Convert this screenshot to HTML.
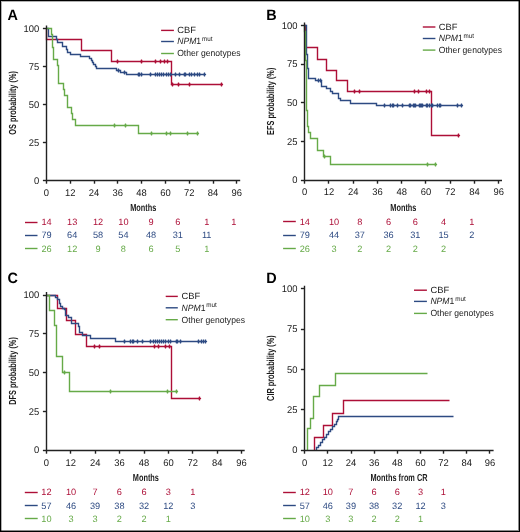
<!DOCTYPE html><html><head><meta charset="utf-8"><style>
html,body{margin:0;padding:0;background:#fff;}
body{width:520px;height:532px;overflow:hidden;}
svg{display:block;will-change:transform;}
text{font-family:"Liberation Sans", sans-serif;text-rendering:geometricPrecision;}
</style></head><body>
<svg width="520" height="532" viewBox="0 0 520 532">
<rect x="0" y="0" width="520" height="532" fill="#fff"/>
<text transform="translate(7.6,19.8) scale(0.96,1)" font-size="15" font-weight="bold" fill="#000">A</text>
<g font-size="9.7" fill="#1a1a1a">
<text transform="translate(39.2,183.5) scale(0.97,1)" text-anchor="end">0</text>
<text transform="translate(39.2,145.6) scale(0.97,1)" text-anchor="end">25</text>
<text transform="translate(39.2,107.7) scale(0.97,1)" text-anchor="end">50</text>
<text transform="translate(39.2,69.8) scale(0.97,1)" text-anchor="end">75</text>
<text transform="translate(39.2,31.9) scale(0.97,1)" text-anchor="end">100</text>
<text transform="translate(46.4,195.6) scale(0.97,1)" text-anchor="middle">0</text>
<text transform="translate(70.2,195.6) scale(0.97,1)" text-anchor="middle">12</text>
<text transform="translate(94,195.6) scale(0.97,1)" text-anchor="middle">24</text>
<text transform="translate(117.8,195.6) scale(0.97,1)" text-anchor="middle">36</text>
<text transform="translate(141.6,195.6) scale(0.97,1)" text-anchor="middle">48</text>
<text transform="translate(165.4,195.6) scale(0.97,1)" text-anchor="middle">60</text>
<text transform="translate(189.2,195.6) scale(0.97,1)" text-anchor="middle">72</text>
<text transform="translate(213,195.6) scale(0.97,1)" text-anchor="middle">84</text>
<text transform="translate(236.8,195.6) scale(0.97,1)" text-anchor="middle">96</text>
</g>
<text transform="translate(143.3,210.8) scale(0.72,1)" font-size="10.2" font-weight="bold" text-anchor="middle" fill="#1a1a1a">Months</text>
<text transform="translate(16,102.9) rotate(-90) scale(0.72,1)" font-size="10.2" font-weight="bold" text-anchor="middle" fill="#1a1a1a">OS probability (%)</text>
<path d="M161.1,30.4 H173.9" stroke="#ad0f37" stroke-width="1.4"/>
<text transform="translate(177.2,33.3) scale(1.04,1)" font-size="9" fill="#1a1a1a">CBF</text>
<path d="M161.1,41.5 H173.9" stroke="#2d4a82" stroke-width="1.4"/>
<text transform="translate(177.2,44.4) scale(0.955,1)" font-size="9" fill="#1a1a1a"><tspan font-style="italic">NPM</tspan>1<tspan font-size="6.6" dx="0.9" dy="-3.6">mut</tspan></text>
<path d="M161.1,53.5 H173.9" stroke="#66aa48" stroke-width="1.4"/>
<text transform="translate(177.2,56.4) scale(0.952,1)" font-size="9" fill="#1a1a1a">Other genotypes</text>
<path d="M46.5,28.5 H46.5 V39.5 H81.5 V50.5 H111.5 V61.5 H171.5 V84.5 H222.5" stroke="#ad0f37" stroke-width="1.4" fill="none"/>
<path d="M117.5,59.6 V63.4 M141.5,59.6 V63.4 M155.5,59.6 V63.4 M160.5,59.6 V63.4 M164.5,59.6 V63.4 M167.5,59.6 V63.4 M172.5,82.6 V86.4 M178.5,82.6 V86.4 M189.5,82.6 V86.4 M221.5,82.6 V86.4" stroke="#ad0f37" stroke-width="1.25" fill="none"/>
<path d="M115.9,61.5 H119.1 M139.9,61.5 H143.1 M153.9,61.5 H157.1 M158.9,61.5 H162.1 M162.9,61.5 H166.1 M165.9,61.5 H169.1 M170.9,84.5 H174.1 M176.9,84.5 H180.1 M187.9,84.5 H191.1 M219.9,84.5 H223.1" stroke="#ad0f37" stroke-width="1.4" fill="none"/>
<path d="M46.5,28.5 H48.5 V36.5 H56.5 V39.5 H57.5 V42.5 H62.5 V46.5 H66.5 V49.5 H67.5 V52.5 H70.5 V54.5 H80.5 V56.5 H89.5 V58.5 H91.5 V60.5 H92.5 V62.5 H93.5 V64.5 H95.5 V66.5 H96.5 V68.5 H116.5 V70.5 H120.5 V72.5 H126.5 V74.5 H204.5" stroke="#2d4a82" stroke-width="1.4" fill="none"/>
<path d="M118.5,68.6 V72.4 M124.5,70.6 V74.4 M138.5,72.6 V76.4 M139.5,72.6 V76.4 M141.5,72.6 V76.4 M150.5,72.6 V76.4 M155.5,72.6 V76.4 M157.5,72.6 V76.4 M159.5,72.6 V76.4 M161.5,72.6 V76.4 M163.5,72.6 V76.4 M166.5,72.6 V76.4 M168.5,72.6 V76.4 M170.5,72.6 V76.4 M175.5,72.6 V76.4 M179.5,72.6 V76.4 M184.5,72.6 V76.4 M185.5,72.6 V76.4 M189.5,72.6 V76.4 M191.5,72.6 V76.4 M194.5,72.6 V76.4 M197.5,72.6 V76.4 M199.5,72.6 V76.4 M204.5,72.6 V76.4" stroke="#2d4a82" stroke-width="1.25" fill="none"/>
<path d="M116.9,70.5 H120.1 M122.9,72.5 H126.1 M136.9,74.5 H140.1 M137.9,74.5 H141.1 M139.9,74.5 H143.1 M148.9,74.5 H152.1 M153.9,74.5 H157.1 M155.9,74.5 H159.1 M157.9,74.5 H161.1 M159.9,74.5 H163.1 M161.9,74.5 H165.1 M164.9,74.5 H168.1 M166.9,74.5 H170.1 M168.9,74.5 H172.1 M173.9,74.5 H177.1 M177.9,74.5 H181.1 M182.9,74.5 H186.1 M183.9,74.5 H187.1 M187.9,74.5 H191.1 M189.9,74.5 H193.1 M192.9,74.5 H196.1 M195.9,74.5 H199.1 M197.9,74.5 H201.1 M202.9,74.5 H206.1" stroke="#2d4a82" stroke-width="1.4" fill="none"/>
<path d="M46.5,28.5 H51.5 V34.5 H52.5 V41.5 H52.5 V47.5 H53.5 V53.5 H53.5 V59.5 H57.5 V65.5 H58.5 V83.5 H63.5 V89.5 H64.5 V95.5 H67.5 V107.5 H71.5 V113.5 H72.5 V119.5 H75.5 V125.5 H138.5 V133.5 H198.5" stroke="#66aa48" stroke-width="1.4" fill="none"/>
<path d="M114.5,123.6 V127.4 M125.5,123.6 V127.4 M151.5,131.6 V135.4 M166.5,131.6 V135.4 M170.5,131.6 V135.4 M187.5,131.6 V135.4 M197.5,131.6 V135.4" stroke="#66aa48" stroke-width="1.25" fill="none"/>
<path d="M112.9,125.5 H116.1 M123.9,125.5 H127.1 M149.9,133.5 H153.1 M164.9,133.5 H168.1 M168.9,133.5 H172.1 M185.9,133.5 H189.1 M195.9,133.5 H199.1" stroke="#66aa48" stroke-width="1.4" fill="none"/>
<g stroke="#222" stroke-width="1.4" fill="none">
<path d="M46.5,25.5 V180.5 H240.2"/>
<path d="M42.9,180.5 H46.5"/>
<path d="M42.9,142.5 H46.5"/>
<path d="M42.9,104.5 H46.5"/>
<path d="M42.9,66.5 H46.5"/>
<path d="M42.9,28.5 H46.5"/>
<path d="M46.5,180.5 V183.7"/>
<path d="M70.5,180.5 V183.7"/>
<path d="M94.5,180.5 V183.7"/>
<path d="M117.5,180.5 V183.7"/>
<path d="M141.5,180.5 V183.7"/>
<path d="M165.5,180.5 V183.7"/>
<path d="M189.5,180.5 V183.7"/>
<path d="M213.5,180.5 V183.7"/>
<path d="M236.5,180.5 V183.7"/>
</g>
<path d="M25,222.5 H37.5" stroke="#ad0f37" stroke-width="1.4"/>
<g font-size="9.2" fill="#ad0f37" text-anchor="middle">
<text x="46.6" y="225.2">14</text>
<text x="72.2" y="225.2">13</text>
<text x="98" y="225.2">12</text>
<text x="123.4" y="225.2">10</text>
<text x="151.1" y="225.2">9</text>
<text x="177.8" y="225.2">6</text>
<text x="206.7" y="225.2">1</text>
<text x="233.8" y="225.2">1</text>
</g>
<path d="M25,235.5 H37.5" stroke="#2d4a82" stroke-width="1.4"/>
<g font-size="9.2" fill="#2d4a82" text-anchor="middle">
<text x="46.6" y="238.4">79</text>
<text x="72.2" y="238.4">64</text>
<text x="98" y="238.4">58</text>
<text x="123.4" y="238.4">54</text>
<text x="151.1" y="238.4">48</text>
<text x="177.8" y="238.4">31</text>
<text x="206.7" y="238.4">11</text>
</g>
<path d="M25,248.5 H37.5" stroke="#66aa48" stroke-width="1.4"/>
<g font-size="9.2" fill="#66aa48" text-anchor="middle">
<text x="46.6" y="251.6">26</text>
<text x="72.2" y="251.6">12</text>
<text x="98" y="251.6">9</text>
<text x="123.4" y="251.6">8</text>
<text x="151.1" y="251.6">6</text>
<text x="177.8" y="251.6">5</text>
<text x="206.7" y="251.6">1</text>
</g>
<text transform="translate(266.3,19.7) scale(0.96,1)" font-size="15" font-weight="bold" fill="#000">B</text>
<g font-size="9.7" fill="#1a1a1a">
<text transform="translate(297.5,183.3) scale(0.97,1)" text-anchor="end">0</text>
<text transform="translate(297.5,144.65) scale(0.97,1)" text-anchor="end">25</text>
<text transform="translate(297.5,106) scale(0.97,1)" text-anchor="end">50</text>
<text transform="translate(297.5,67.35) scale(0.97,1)" text-anchor="end">75</text>
<text transform="translate(297.5,28.7) scale(0.97,1)" text-anchor="end">100</text>
<text transform="translate(304.7,195.4) scale(0.97,1)" text-anchor="middle">0</text>
<text transform="translate(328.95,195.4) scale(0.97,1)" text-anchor="middle">12</text>
<text transform="translate(353.2,195.4) scale(0.97,1)" text-anchor="middle">24</text>
<text transform="translate(377.45,195.4) scale(0.97,1)" text-anchor="middle">36</text>
<text transform="translate(401.7,195.4) scale(0.97,1)" text-anchor="middle">48</text>
<text transform="translate(425.95,195.4) scale(0.97,1)" text-anchor="middle">60</text>
<text transform="translate(450.2,195.4) scale(0.97,1)" text-anchor="middle">72</text>
<text transform="translate(474.45,195.4) scale(0.97,1)" text-anchor="middle">84</text>
<text transform="translate(498.7,195.4) scale(0.97,1)" text-anchor="middle">96</text>
</g>
<text transform="translate(403.4,210.6) scale(0.72,1)" font-size="10.2" font-weight="bold" text-anchor="middle" fill="#1a1a1a">Months</text>
<text transform="translate(274,101.3) rotate(-90) scale(0.72,1)" font-size="10.2" font-weight="bold" text-anchor="middle" fill="#1a1a1a">EFS probability (%)</text>
<path d="M422.8,27 H435.4" stroke="#ad0f37" stroke-width="1.4"/>
<text transform="translate(438.8,29.9) scale(1.04,1)" font-size="9" fill="#1a1a1a">CBF</text>
<path d="M422.8,38.5 H435.4" stroke="#2d4a82" stroke-width="1.4"/>
<text transform="translate(438.8,41.4) scale(0.955,1)" font-size="9" fill="#1a1a1a"><tspan font-style="italic">NPM</tspan>1<tspan font-size="6.6" dx="0.9" dy="-3.6">mut</tspan></text>
<path d="M422.8,50.1 H435.4" stroke="#66aa48" stroke-width="1.4"/>
<text transform="translate(438.8,53) scale(0.952,1)" font-size="9" fill="#1a1a1a">Other genotypes</text>
<path d="M304.5,25.5 H305.5 V47.5 H317.5 V59.5 H326.5 V70.5 H336.5 V80.5 H347.5 V91.5 H431.5 V135.5 H458.5" stroke="#ad0f37" stroke-width="1.4" fill="none"/>
<path d="M354.5,89.6 V93.4 M359.5,89.6 V93.4 M414.5,89.6 V93.4 M418.5,89.6 V93.4 M426.5,89.6 V93.4 M429.5,89.6 V93.4 M458.5,133.6 V137.4" stroke="#ad0f37" stroke-width="1.25" fill="none"/>
<path d="M352.9,91.5 H356.1 M357.9,91.5 H361.1 M412.9,91.5 H416.1 M416.9,91.5 H420.1 M424.9,91.5 H428.1 M427.9,91.5 H431.1 M456.9,135.5 H460.1" stroke="#ad0f37" stroke-width="1.4" fill="none"/>
<path d="M304.5,25.5 H306.5 V54.5 H307.5 V62.5 H307.5 V68.5 H308.5 V78.5 H315.5 V80.5 H321.5 V86.5 H326.5 V88.5 H330.5 V91.5 H332.5 V93.5 H338.5 V98.5 H340.5 V100.5 H350.5 V103.5 H376.5 V105.5 H462.5" stroke="#2d4a82" stroke-width="1.4" fill="none"/>
<path d="M318.5,78.6 V82.4 M320.5,78.6 V82.4 M384.5,103.6 V107.4 M390.5,103.6 V107.4 M392.5,103.6 V107.4 M393.5,103.6 V107.4 M397.5,103.6 V107.4 M402.5,103.6 V107.4 M409.5,103.6 V107.4 M410.5,103.6 V107.4 M413.5,103.6 V107.4 M414.5,103.6 V107.4 M415.5,103.6 V107.4 M419.5,103.6 V107.4 M420.5,103.6 V107.4 M421.5,103.6 V107.4 M422.5,103.6 V107.4 M426.5,103.6 V107.4 M427.5,103.6 V107.4 M429.5,103.6 V107.4 M431.5,103.6 V107.4 M432.5,103.6 V107.4 M437.5,103.6 V107.4 M439.5,103.6 V107.4 M440.5,103.6 V107.4 M457.5,103.6 V107.4 M461.5,103.6 V107.4" stroke="#2d4a82" stroke-width="1.25" fill="none"/>
<path d="M316.9,80.5 H320.1 M318.9,80.5 H322.1 M382.9,105.5 H386.1 M388.9,105.5 H392.1 M390.9,105.5 H394.1 M391.9,105.5 H395.1 M395.9,105.5 H399.1 M400.9,105.5 H404.1 M407.9,105.5 H411.1 M408.9,105.5 H412.1 M411.9,105.5 H415.1 M412.9,105.5 H416.1 M413.9,105.5 H417.1 M417.9,105.5 H421.1 M418.9,105.5 H422.1 M419.9,105.5 H423.1 M420.9,105.5 H424.1 M424.9,105.5 H428.1 M425.9,105.5 H429.1 M427.9,105.5 H431.1 M429.9,105.5 H433.1 M430.9,105.5 H434.1 M435.9,105.5 H439.1 M437.9,105.5 H441.1 M438.9,105.5 H442.1 M455.9,105.5 H459.1 M459.9,105.5 H463.1" stroke="#2d4a82" stroke-width="1.4" fill="none"/>
<path d="M304.5,25.5 V31.5 H305.5 V60.5 H306.5 V90.5 H306.5 V110.5 H307.5 V126.5 H308.5 V132.5 H310.5 V138.5 H317.5 V150.5 H323.5 V156.5 H330.5 V164.5 H436.5" stroke="#66aa48" stroke-width="1.4" fill="none"/>
<path d="M324.5,154.6 V158.4 M427.5,162.6 V166.4 M435.5,162.6 V166.4" stroke="#66aa48" stroke-width="1.25" fill="none"/>
<path d="M322.9,156.5 H326.1 M425.9,164.5 H429.1 M433.9,164.5 H437.1" stroke="#66aa48" stroke-width="1.4" fill="none"/>
<g stroke="#222" stroke-width="1.4" fill="none">
<path d="M304.5,22.4 V180.5 H502"/>
<path d="M300.9,180.5 H304.5"/>
<path d="M300.9,141.5 H304.5"/>
<path d="M300.9,102.5 H304.5"/>
<path d="M300.9,64.5 H304.5"/>
<path d="M300.9,25.5 H304.5"/>
<path d="M304.5,180.5 V183.7"/>
<path d="M328.5,180.5 V183.7"/>
<path d="M353.5,180.5 V183.7"/>
<path d="M377.5,180.5 V183.7"/>
<path d="M401.5,180.5 V183.7"/>
<path d="M425.5,180.5 V183.7"/>
<path d="M450.5,180.5 V183.7"/>
<path d="M474.5,180.5 V183.7"/>
<path d="M498.5,180.5 V183.7"/>
</g>
<path d="M283.1,221.5 H295.8" stroke="#ad0f37" stroke-width="1.4"/>
<g font-size="9.2" fill="#ad0f37" text-anchor="middle">
<text x="304.8" y="225.1">14</text>
<text x="334" y="225.1">10</text>
<text x="359.8" y="225.1">8</text>
<text x="388.6" y="225.1">6</text>
<text x="415.3" y="225.1">6</text>
<text x="443.6" y="225.1">4</text>
<text x="471.9" y="225.1">1</text>
</g>
<path d="M283.1,235.5 H295.8" stroke="#2d4a82" stroke-width="1.4"/>
<g font-size="9.2" fill="#2d4a82" text-anchor="middle">
<text x="304.8" y="238.2">79</text>
<text x="334" y="238.2">44</text>
<text x="359.8" y="238.2">37</text>
<text x="388.6" y="238.2">36</text>
<text x="415.3" y="238.2">31</text>
<text x="443.6" y="238.2">15</text>
<text x="471.9" y="238.2">2</text>
</g>
<path d="M283.1,248.5 H295.8" stroke="#66aa48" stroke-width="1.4"/>
<g font-size="9.2" fill="#66aa48" text-anchor="middle">
<text x="304.8" y="251.6">26</text>
<text x="334" y="251.6">3</text>
<text x="359.8" y="251.6">2</text>
<text x="388.6" y="251.6">2</text>
<text x="415.3" y="251.6">2</text>
<text x="443.6" y="251.6">2</text>
</g>
<text transform="translate(7.6,283.4) scale(0.96,1)" font-size="15" font-weight="bold" fill="#000">C</text>
<g font-size="9.7" fill="#1a1a1a">
<text transform="translate(39.2,453.4) scale(0.97,1)" text-anchor="end">0</text>
<text transform="translate(39.2,414.6) scale(0.97,1)" text-anchor="end">25</text>
<text transform="translate(39.2,375.8) scale(0.97,1)" text-anchor="end">50</text>
<text transform="translate(39.2,337) scale(0.97,1)" text-anchor="end">75</text>
<text transform="translate(39.2,298.2) scale(0.97,1)" text-anchor="end">100</text>
<text transform="translate(46.4,465.5) scale(0.97,1)" text-anchor="middle">0</text>
<text transform="translate(70.8,465.5) scale(0.97,1)" text-anchor="middle">12</text>
<text transform="translate(95.2,465.5) scale(0.97,1)" text-anchor="middle">24</text>
<text transform="translate(119.6,465.5) scale(0.97,1)" text-anchor="middle">36</text>
<text transform="translate(144,465.5) scale(0.97,1)" text-anchor="middle">48</text>
<text transform="translate(168.4,465.5) scale(0.97,1)" text-anchor="middle">60</text>
<text transform="translate(192.8,465.5) scale(0.97,1)" text-anchor="middle">72</text>
<text transform="translate(217.2,465.5) scale(0.97,1)" text-anchor="middle">84</text>
<text transform="translate(241.6,465.5) scale(0.97,1)" text-anchor="middle">96</text>
</g>
<text transform="translate(145.9,480.7) scale(0.72,1)" font-size="10.2" font-weight="bold" text-anchor="middle" fill="#1a1a1a">Months</text>
<text transform="translate(16,371) rotate(-90) scale(0.72,1)" font-size="10.2" font-weight="bold" text-anchor="middle" fill="#1a1a1a">DFS probability (%)</text>
<path d="M165.7,296.4 H177.8" stroke="#ad0f37" stroke-width="1.4"/>
<text transform="translate(181.6,299.3) scale(1.04,1)" font-size="9" fill="#1a1a1a">CBF</text>
<path d="M165.7,307.8 H177.8" stroke="#2d4a82" stroke-width="1.4"/>
<text transform="translate(181.6,310.7) scale(0.955,1)" font-size="9" fill="#1a1a1a"><tspan font-style="italic">NPM</tspan>1<tspan font-size="6.6" dx="0.9" dy="-3.6">mut</tspan></text>
<path d="M165.7,319.7 H177.8" stroke="#66aa48" stroke-width="1.4"/>
<text transform="translate(181.6,322.6) scale(0.952,1)" font-size="9" fill="#1a1a1a">Other genotypes</text>
<path d="M46.5,295.5 H57.5 V308.5 H66.5 V320.5 H75.5 V334.5 H86.5 V346.5 H171.5 V398.5 H199.5" stroke="#ad0f37" stroke-width="1.4" fill="none"/>
<path d="M94.5,344.6 V348.4 M99.5,344.6 V348.4 M154.5,344.6 V348.4 M158.5,344.6 V348.4 M165.5,344.6 V348.4 M169.5,344.6 V348.4 M199.5,396.6 V400.4" stroke="#ad0f37" stroke-width="1.25" fill="none"/>
<path d="M92.9,346.5 H96.1 M97.9,346.5 H101.1 M152.9,346.5 H156.1 M156.9,346.5 H160.1 M163.9,346.5 H167.1 M167.9,346.5 H171.1 M197.9,398.5 H201.1" stroke="#ad0f37" stroke-width="1.4" fill="none"/>
<path d="M46.5,295.5 H55.5 V297.5 H57.5 V299.5 H59.5 V303.5 H60.5 V306.5 H62.5 V308.5 H64.5 V309.5 H65.5 V315.5 H68.5 V317.5 H71.5 V323.5 H78.5 V326.5 H79.5 V332.5 H82.5 V335.5 H90.5 V338.5 H115.5 V341.5 H205.5" stroke="#2d4a82" stroke-width="1.4" fill="none"/>
<path d="M124.5,339.6 V343.4 M130.5,339.6 V343.4 M132.5,339.6 V343.4 M133.5,339.6 V343.4 M137.5,339.6 V343.4 M142.5,339.6 V343.4 M150.5,339.6 V343.4 M153.5,339.6 V343.4 M155.5,339.6 V343.4 M157.5,339.6 V343.4 M159.5,339.6 V343.4 M161.5,339.6 V343.4 M163.5,339.6 V343.4 M165.5,339.6 V343.4 M168.5,339.6 V343.4 M170.5,339.6 V343.4 M176.5,339.6 V343.4 M177.5,339.6 V343.4 M180.5,339.6 V343.4 M198.5,339.6 V343.4 M201.5,339.6 V343.4 M203.5,339.6 V343.4 M205.5,339.6 V343.4" stroke="#2d4a82" stroke-width="1.25" fill="none"/>
<path d="M122.9,341.5 H126.1 M128.9,341.5 H132.1 M130.9,341.5 H134.1 M131.9,341.5 H135.1 M135.9,341.5 H139.1 M140.9,341.5 H144.1 M148.9,341.5 H152.1 M151.9,341.5 H155.1 M153.9,341.5 H157.1 M155.9,341.5 H159.1 M157.9,341.5 H161.1 M159.9,341.5 H163.1 M161.9,341.5 H165.1 M163.9,341.5 H167.1 M166.9,341.5 H170.1 M168.9,341.5 H172.1 M174.9,341.5 H178.1 M175.9,341.5 H179.1 M178.9,341.5 H182.1 M196.9,341.5 H200.1 M199.9,341.5 H203.1 M201.9,341.5 H205.1 M203.9,341.5 H207.1" stroke="#2d4a82" stroke-width="1.4" fill="none"/>
<path d="M46.5,295.5 H49.5 V310.5 H54.5 V325.5 H56.5 V356.5 H62.5 V372.5 H69.5 V391.5 H177.5" stroke="#66aa48" stroke-width="1.4" fill="none"/>
<path d="M64.5,370.6 V374.4 M110.5,389.6 V393.4 M167.5,389.6 V393.4 M176.5,389.6 V393.4" stroke="#66aa48" stroke-width="1.25" fill="none"/>
<path d="M62.9,372.5 H66.1 M108.9,391.5 H112.1 M165.9,391.5 H169.1 M174.9,391.5 H178.1" stroke="#66aa48" stroke-width="1.4" fill="none"/>
<g stroke="#222" stroke-width="1.4" fill="none">
<path d="M46.5,292 V450.5 H244.7"/>
<path d="M42.9,450.5 H46.5"/>
<path d="M42.9,411.5 H46.5"/>
<path d="M42.9,372.5 H46.5"/>
<path d="M42.9,333.5 H46.5"/>
<path d="M42.9,295.5 H46.5"/>
<path d="M46.5,450.5 V453.7"/>
<path d="M70.5,450.5 V453.7"/>
<path d="M95.5,450.5 V453.7"/>
<path d="M119.5,450.5 V453.7"/>
<path d="M144.5,450.5 V453.7"/>
<path d="M168.5,450.5 V453.7"/>
<path d="M192.5,450.5 V453.7"/>
<path d="M217.5,450.5 V453.7"/>
<path d="M241.5,450.5 V453.7"/>
</g>
<path d="M24.8,492.5 H37.7" stroke="#ad0f37" stroke-width="1.4"/>
<g font-size="9.2" fill="#ad0f37" text-anchor="middle">
<text x="46.4" y="495.2">12</text>
<text x="71" y="495.2">10</text>
<text x="95" y="495.2">7</text>
<text x="119.4" y="495.2">6</text>
<text x="144" y="495.2">6</text>
<text x="168.3" y="495.2">3</text>
<text x="192.7" y="495.2">1</text>
</g>
<path d="M24.8,505.5 H37.7" stroke="#2d4a82" stroke-width="1.4"/>
<g font-size="9.2" fill="#2d4a82" text-anchor="middle">
<text x="46.4" y="508.7">57</text>
<text x="71" y="508.7">46</text>
<text x="95" y="508.7">39</text>
<text x="119.4" y="508.7">38</text>
<text x="144" y="508.7">32</text>
<text x="168.3" y="508.7">12</text>
<text x="192.7" y="508.7">3</text>
</g>
<path d="M24.8,518.5 H37.7" stroke="#66aa48" stroke-width="1.4"/>
<g font-size="9.2" fill="#66aa48" text-anchor="middle">
<text x="46.4" y="522">10</text>
<text x="71" y="522">3</text>
<text x="95" y="522">3</text>
<text x="119.4" y="522">2</text>
<text x="144" y="522">2</text>
<text x="168.3" y="522">1</text>
</g>
<text transform="translate(266.3,283.3) scale(0.96,1)" font-size="15" font-weight="bold" fill="#000">D</text>
<g font-size="9.7" fill="#1a1a1a">
<text transform="translate(297.5,453.4) scale(0.97,1)" text-anchor="end">0</text>
<text transform="translate(297.5,413.05) scale(0.97,1)" text-anchor="end">25</text>
<text transform="translate(297.5,372.7) scale(0.97,1)" text-anchor="end">50</text>
<text transform="translate(297.5,332.35) scale(0.97,1)" text-anchor="end">75</text>
<text transform="translate(297.5,292) scale(0.97,1)" text-anchor="end">100</text>
<text transform="translate(304.7,465.5) scale(0.97,1)" text-anchor="middle">0</text>
<text transform="translate(327.85,465.5) scale(0.97,1)" text-anchor="middle">12</text>
<text transform="translate(351,465.5) scale(0.97,1)" text-anchor="middle">24</text>
<text transform="translate(374.15,465.5) scale(0.97,1)" text-anchor="middle">36</text>
<text transform="translate(397.3,465.5) scale(0.97,1)" text-anchor="middle">48</text>
<text transform="translate(420.45,465.5) scale(0.97,1)" text-anchor="middle">60</text>
<text transform="translate(443.6,465.5) scale(0.97,1)" text-anchor="middle">72</text>
<text transform="translate(466.75,465.5) scale(0.97,1)" text-anchor="middle">84</text>
<text transform="translate(489.9,465.5) scale(0.97,1)" text-anchor="middle">96</text>
</g>
<text transform="translate(399,480.7) scale(0.72,1)" font-size="10.2" font-weight="bold" text-anchor="middle" fill="#1a1a1a">Months from CR</text>
<text transform="translate(274.2,368.1) rotate(-90) scale(0.72,1)" font-size="10.2" font-weight="bold" text-anchor="middle" fill="#1a1a1a">CIR probability (%)</text>
<path d="M414,290.2 H426.9" stroke="#ad0f37" stroke-width="1.4"/>
<text transform="translate(430.4,293.1) scale(1.04,1)" font-size="9" fill="#1a1a1a">CBF</text>
<path d="M414,301.4 H426.9" stroke="#2d4a82" stroke-width="1.4"/>
<text transform="translate(430.4,304.3) scale(0.955,1)" font-size="9" fill="#1a1a1a"><tspan font-style="italic">NPM</tspan>1<tspan font-size="6.6" dx="0.9" dy="-3.6">mut</tspan></text>
<path d="M414,313.4 H426.9" stroke="#66aa48" stroke-width="1.4"/>
<text transform="translate(430.4,316.3) scale(0.952,1)" font-size="9" fill="#1a1a1a">Other genotypes</text>
<path d="M314.5,450.5 V437.5 H323.5 V425.5 H332.5 V413.5 H343.5 V400.5 H449.5" stroke="#ad0f37" stroke-width="1.4" fill="none"/>
<path d="M316.5,450.5 V447.5 H318.5 V445.5 H320.5 V442.5 H322.5 V439.5 H324.5 V437.5 H326.5 V434.5 H328.5 V431.5 H330.5 V429.5 H332.5 V426.5 H334.5 V424.5 H336.5 V421.5 H337.5 V419.5 H338.5 V416.5 H453.5" stroke="#2d4a82" stroke-width="1.4" fill="none"/>
<path d="M307.5,450.5 V439.5 H307.5 V428.5 H310.5 V418.5 H313.5 V407.5 H313.5 V396.5 H319.5 V385.5 H335.5 V373.5 H427.5" stroke="#66aa48" stroke-width="1.4" fill="none"/>
<g stroke="#222" stroke-width="1.4" fill="none">
<path d="M304.5,285.7 V450.5 H493.6"/>
<path d="M300.9,450.5 H304.5"/>
<path d="M300.9,409.5 H304.5"/>
<path d="M300.9,369.5 H304.5"/>
<path d="M300.9,329.5 H304.5"/>
<path d="M300.9,288.5 H304.5"/>
<path d="M304.5,450.5 V453.7"/>
<path d="M327.5,450.5 V453.7"/>
<path d="M351.5,450.5 V453.7"/>
<path d="M374.5,450.5 V453.7"/>
<path d="M397.5,450.5 V453.7"/>
<path d="M420.5,450.5 V453.7"/>
<path d="M443.5,450.5 V453.7"/>
<path d="M466.5,450.5 V453.7"/>
<path d="M489.5,450.5 V453.7"/>
</g>
<path d="M283.1,492.5 H295.8" stroke="#ad0f37" stroke-width="1.4"/>
<g font-size="9.2" fill="#ad0f37" text-anchor="middle">
<text x="304.8" y="495.2">12</text>
<text x="327.8" y="495.2">10</text>
<text x="350.9" y="495.2">7</text>
<text x="374" y="495.2">6</text>
<text x="397.2" y="495.2">6</text>
<text x="420.6" y="495.2">3</text>
<text x="443.2" y="495.2">1</text>
</g>
<path d="M283.1,505.5 H295.8" stroke="#2d4a82" stroke-width="1.4"/>
<g font-size="9.2" fill="#2d4a82" text-anchor="middle">
<text x="304.8" y="508.7">57</text>
<text x="327.8" y="508.7">46</text>
<text x="350.9" y="508.7">39</text>
<text x="374" y="508.7">38</text>
<text x="397.2" y="508.7">32</text>
<text x="420.6" y="508.7">12</text>
<text x="443.2" y="508.7">3</text>
</g>
<path d="M283.1,518.5 H295.8" stroke="#66aa48" stroke-width="1.4"/>
<g font-size="9.2" fill="#66aa48" text-anchor="middle">
<text x="304.8" y="522">10</text>
<text x="327.8" y="522">3</text>
<text x="350.9" y="522">3</text>
<text x="374" y="522">2</text>
<text x="397.2" y="522">2</text>
<text x="420.6" y="522">1</text>
</g>
<rect x="0.5" y="0.5" width="519" height="531" fill="none" stroke="#000" stroke-width="1"/>
<path d="M518.5,0 V532 M0,530.5 H520" stroke="#000" stroke-width="1" opacity="0.45"/>
<path d="M1.5,1 V531 M1,1.5 H519" stroke="#000" stroke-width="1" opacity="0.3"/>
</svg></body></html>
